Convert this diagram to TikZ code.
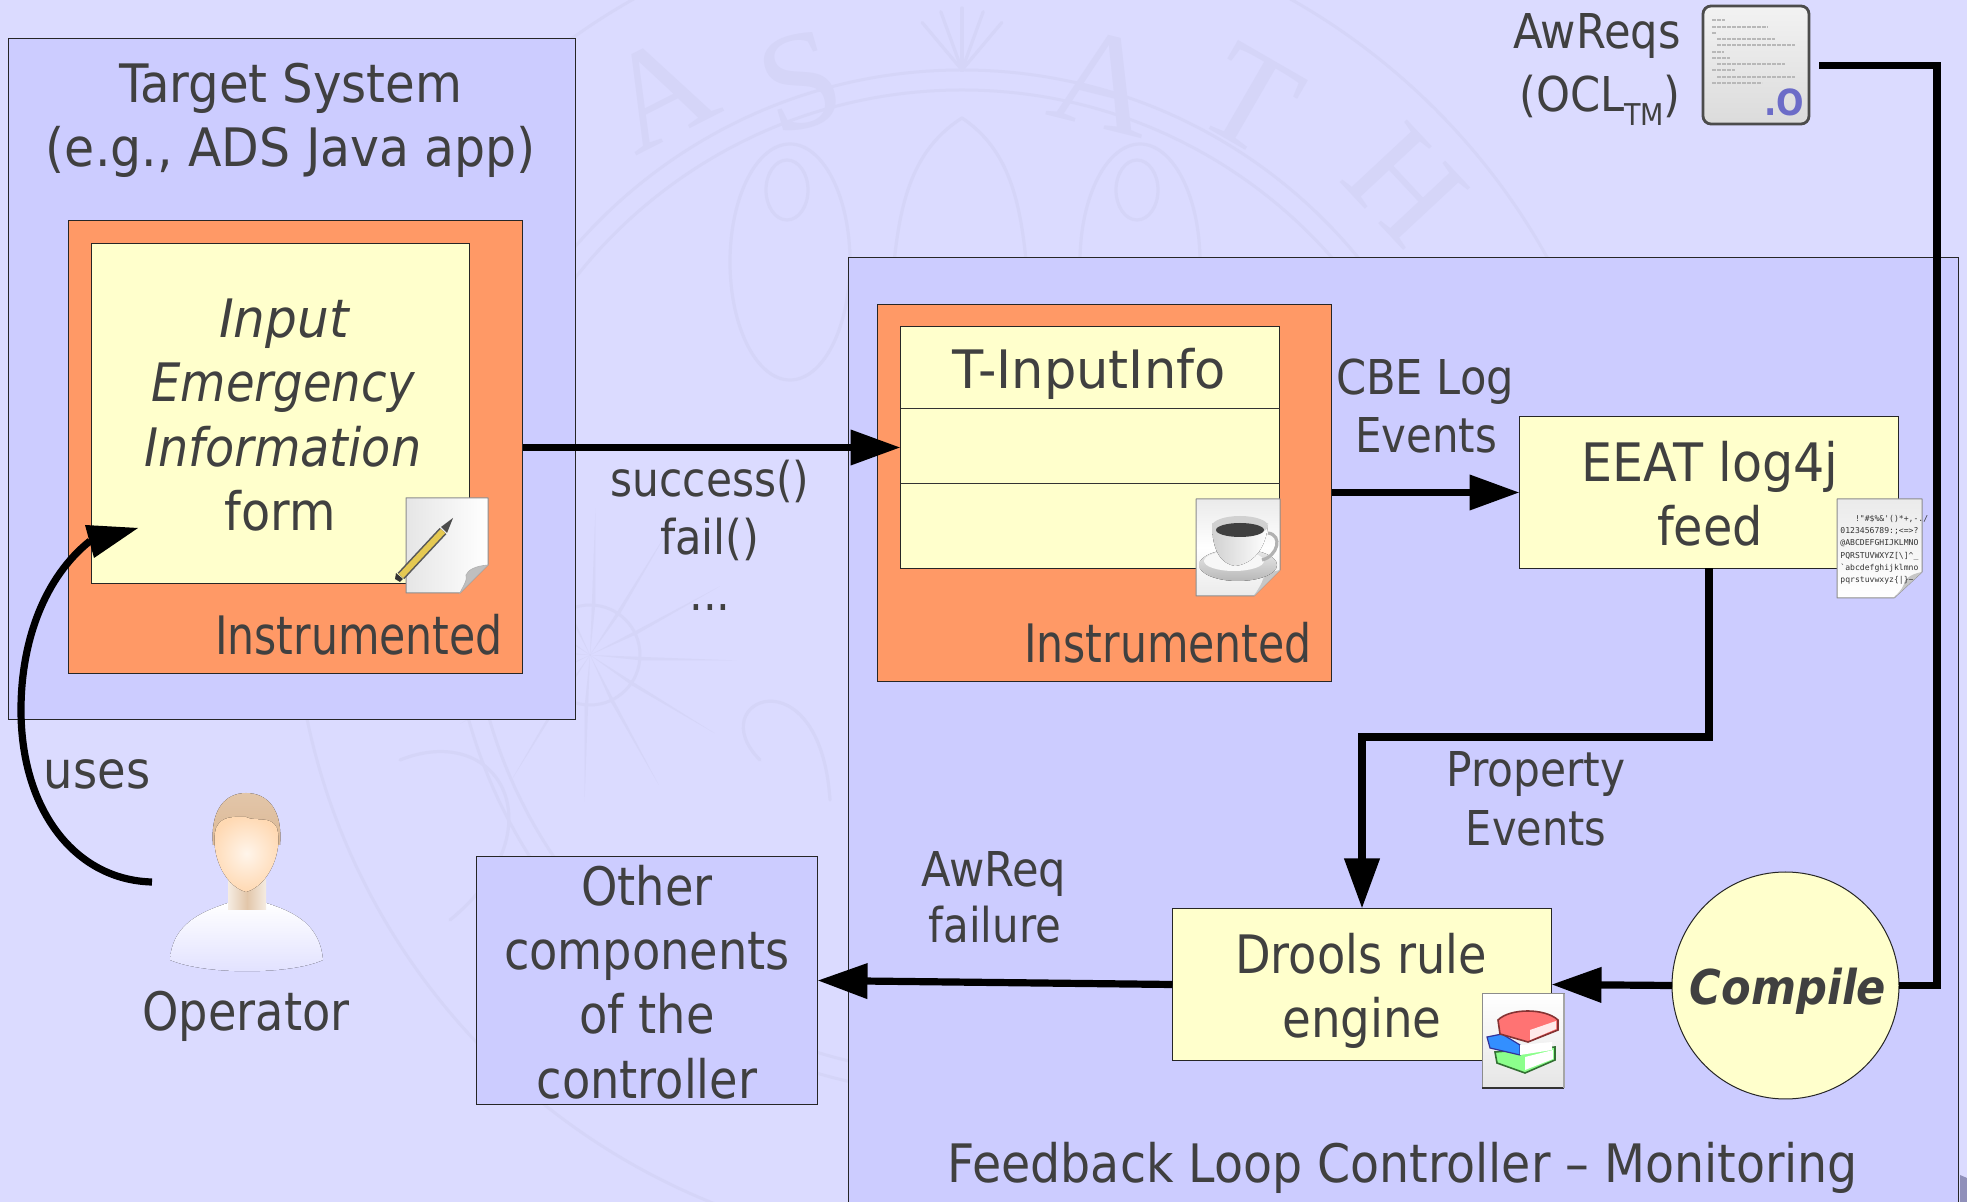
\documentclass[tikz,border=0pt]{standalone}
\usepackage{fontspec}
\setmainfont{DejaVu Sans Condensed}
\newfontfamily\wmfont{Liberation Serif}
\newfontfamily\tinyfont{DejaVu Sans Mono}
\usetikzlibrary{arrows.meta,shapes.geometric}
\definecolor{bgc}{HTML}{DBDBFF}
\definecolor{panel}{HTML}{CCCCFF}
\definecolor{orng}{HTML}{FF9966}
\definecolor{yel}{HTML}{FFFFCC}
\definecolor{ink}{HTML}{404040}
\definecolor{wm}{HTML}{D5D5F8}
\newcommand{\sx}[2]{\scalebox{#1}[1]{#2}}
\tikzset{
  x=0.5pt,y=-0.5pt,
  box/.style={draw=black!85,line width=0.5pt,inner sep=0,outer sep=0,rectangle},
  panelbox/.style={box,fill=panel},
  orngbox/.style={box,fill=orng},
  yelbox/.style={box,fill=yel},
  size/.style 2 args={minimum width=#1*0.5pt,minimum height=#2*0.5pt},
  txt/.style={anchor=base,inner sep=0,outer sep=0,align=center,text=ink,yshift=0.5pt,font=\fontsize{26.5}{32}\selectfont},
  txts/.style={txt,font=\fontsize{24}{29}\selectfont},
  conn/.style={draw=black,line width=3.6pt,-{Triangle[length=25pt,width=17pt]},line join=miter},
  plain/.style={draw=black,line width=3.6pt,line join=miter},
  wmring/.style={draw=wm,line width=1.5pt},
  wmtext/.style={text=wm,inner sep=0,font=\wmfont\fontsize{70}{70}\selectfont},
  wmline/.style={draw=wm,line width=1.6pt,line cap=round},
  icon/.style={inner sep=0,outer sep=0,rectangle},
  pageedge/.style={draw=black!45,line width=0.5pt,line join=round},
}
\begin{document}
\begin{tikzpicture}
\useasboundingbox (0,0) rectangle (1967,1202);
\clip (0,0) rectangle (1967,1202);
\fill[bgc] (0,0) rectangle (1967,1202);
% watermark seal
\draw[wmring] (962,582) circle (669);
\draw[wmring] (962,582) circle (512);
\draw[wmring] (962,582) circle (492);
\node[wmtext,rotate=27] (wmA) at (660,92) {A};
\node[wmtext,rotate=16] (wmS) at (800,82) {S};
\node[wmtext,rotate=-14] (wmB) at (1105,82) {A};
\node[wmtext,rotate=-30] (wmT) at (1250,100) {T};
\node[wmtext,rotate=-47] (wmH) at (1405,185) {H};
\foreach \a in {-70,-110,-90,-50,-130}
  \draw[wmline] (962,70) -- ++(\a:62);
\foreach \a in {0,30,...,330}
  \fill[wm] (590,655) ++(\a+6:52) -- ++(\a:95) -- (590,655) ++(\a-6:52) -- cycle;
\draw[wmring] (590,655) circle (50);
\foreach \cx/\ix in {790/787,1140/1137}{
  \draw[wmline] (\cx,262) ellipse (60 and 118);
  \draw[wmline] (\ix,190) ellipse (21 and 30);
}
\draw[wmline] (962,118) .. controls (880,170) and (900,280) .. (880,400);
\draw[wmline] (962,118) .. controls (1040,170) and (1020,280) .. (1040,400);
\draw[wmline] (400,760) .. controls (500,720) and (560,830) .. (450,920);
\draw[wmline] (760,760) .. controls (700,700) and (820,650) .. (830,800);

% bottom right corner
\fill[black!5!blue!25!gray!70] (1960,1175) -- (1967,1178) -- (1967,1202) -- (1960,1202) -- cycle;

% panels
\node[panelbox,size={567}{681}] (target) at (291.5,379.5) {};
\node[orngbox,size={454}{453}] (orngA) at (295.5,447.5) {};
\node[yelbox,size={378}{340}] (form) at (280,413.5) {};
\node[panelbox,size={1110}{960}] (feedback) at (1403.5,738) {};
\node[orngbox,size={454}{377}] (orngB) at (1104.5,493) {};
\node[yelbox,size={379}{242}] (tinput) at (1090,447.5) {};
\draw[draw=black!80,line width=0.5pt] (901,409) -- (1280,409);
\draw[draw=black!80,line width=0.5pt] (901,484) -- (1280,484);
\node[yelbox,size={379}{152}] (eeat) at (1709,492.5) {};
\node[yelbox,size={379}{152}] (drools) at (1362,984.5) {};
\node[panelbox,size={341}{248}] (other) at (647,980.5) {};
\node[yelbox,circle,minimum size=113.5pt] (compile) at (1785.5,985.5) {};

% connectors
\node[icon,size={108}{121}] (oclicon) at (1756,65.5) {};
\coordinate (awturn) at (1937,65.5);
\draw[plain] ([xshift=4.5pt]oclicon.east) -- (awturn) -- (awturn |- compile.east) -- (compile.east);
\draw[conn] (compile.west) -- (drools.east);
\draw[conn] (drools.west) -- (other.east);
\draw[conn] (orngA.east) -- (tinput.west);
\draw[conn] (orngB.east |- eeat.west) -- (eeat.west);
\coordinate (eeatturn) at (1709,737);
\draw[conn] (eeat.south) -- (eeatturn) -| (drools.north);
\coordinate (opout) at (152,882);
\coordinate (formin) at (138,528);
\draw[draw=black,line width=3.6pt] (opout) .. controls (75,880) and (21,810) .. (21,710) .. controls (21,640) and (45,577) .. (90,541);
\path[fill=black] (formin) -- (85,525) -- (94,558) -- cycle;

% texts
\node[txt] (t1) at (291,104) {\sx{1.01}{Target System}};
\node[txt] (t2) at (291,168) {\sx{1.026}{(e.g., ADS Java app)}};
\node[txt,font=\fontsize{26.5}{32}\itshape] (f1) at (284,339) {\sx{1.05}{Input}};
\node[txt,font=\fontsize{26.5}{32}\itshape] (f2) at (283,403) {\sx{0.975}{Emergency}};
\node[txt,font=\fontsize{26.5}{32}\itshape] (f3) at (283,468) {Information};
\node[txt] (f4) at (280,532) {form};
\node[txt,anchor=base east] (i1) at (503,656) {\sx{0.894}{Instrumented}};
\node[txt,anchor=base east] (i2) at (1312,664) {\sx{0.894}{Instrumented}};
\node[txt] (ti) at (1089,390) {\sx{1.07}{T-InputInfo}};
\node[txts] (s1) at (710,498) {\sx{0.98}{success()}};
\node[txts] (s2) at (710,556) {fail()};
\node[txts] (s3) at (710,612) {...};
\node[txts] (c1) at (1425,396) {CBE Log};
\node[txts] (c2) at (1426,454) {\sx{0.97}{Events}};
\node[txt] (e1) at (1710,483) {\sx{1.03}{EEAT log4j}};
\node[txt] (e2) at (1710,547) {feed};
\node[txts] (p1) at (1536,788) {\sx{0.98}{Property}};
\node[txts] (p2) at (1536,847) {\sx{0.96}{Events}};
\node[txts] (a1) at (994,888) {AwReq};
\node[txts] (a2) at (995,944) {\sx{0.97}{failure}};
\node[txt] (d1) at (1361,975) {\sx{0.97}{Drools rule}};
\node[txt] (d2) at (1362,1039) {\sx{0.98}{engine}};
\node[txt,font=\fontsize{24}{29}\bfseries\itshape] (cp) at (1788,1006) {Compile};
\node[txt] (o1) at (647,907) {\sx{0.97}{Other}};
\node[txt] (o2) at (647,971) {\sx{0.97}{components}};
\node[txt] (o3) at (647,1035) {\sx{0.97}{of the}};
\node[txt] (o4) at (647,1100) {\sx{0.97}{controller}};
\node[txt] (op) at (246,1032) {\sx{0.97}{Operator}};
\node[txts,font=\fontsize{25.8}{29}\selectfont] (us) at (97,790) {uses};
\node[txts] (aw) at (1597,50) {AwReqs};
\node[txts] (ocl) at (1600,113) {(OCL\raisebox{-7pt}{\fontsize{15}{15}\selectfont TM})};
\node[txt] (fb) at (1403,1183) {\sx{0.995}{Feedback Loop Controller – Monitoring}};

% operator icon
\node[icon,size={153}{180}] (opicon) at (246,880) {};
\fill[top color=white,bottom color=white!88!blue] (170,960) .. controls (172,925) and (200,912) .. (228,903) -- (266,903) .. controls (295,912) and (320,925) .. (323,960) .. controls (290,975) and (205,975) .. (170,960) -- cycle;
\fill[left color=white!85!brown,right color=white!85!brown,middle color=brown!45!white] (228,880) rectangle (266,910);
\fill[top color=brown!45!white,bottom color=brown!55!white] (213,845) .. controls (210,810) and (225,793) .. (246,793) .. controls (268,793) and (283,810) .. (280,845) -- cycle;
\fill[inner color=orange!8!white,outer color=orange!30!white] (246,817) .. controls (235,817) and (222,815) .. (216,828) .. controls (210,850) and (222,885) .. (246,892) .. controls (270,885) and (283,850) .. (277,828) .. controls (271,815) and (255,822) .. (246,817) -- cycle;

% note icon
\node[icon,size={82}{95}] (noteicon) at (447,545.5) {};
\path[pageedge,left color=black!10,right color=white] (406,498) -- (488,498) -- (488,565) -- (460,593) -- (406,593) -- cycle;
\path[fill=black!25,draw=black!30,line width=0.3pt] (488,565) .. controls (475,566) and (468,570) .. (466,575) .. controls (468,580) and (462,588) .. (460,593) -- cycle;
\draw[draw=black!65,line width=4.6pt] (401,576) -- (443,531);
\draw[draw=yellow!50!brown!85!white,line width=3pt] (401,576) -- (443,531);
\fill[black!70] (441,527) -- (453,518) -- (447,533) -- cycle;
\fill[black!80] (396,573) -- (403,579) -- (400,582) -- (395,579) -- cycle;

% coffee icon
\node[icon,size={84}{97}] (cupicon) at (1238,547.5) {};
\path[pageedge,top color=white!92!black,bottom color=white!92!black,middle color=white] (1196,499) -- (1280,499) -- (1280,570) -- (1254,596) -- (1196,596) -- cycle;
\path[fill=black!22] (1280,570) .. controls (1268,572) and (1262,578) .. (1262,582) .. controls (1260,587) and (1256,592) .. (1254,596) -- cycle;
\fill[top color=black!8,bottom color=black!28] (1238,565) ellipse (39 and 16);
\fill[white!97!black] (1234,561) ellipse (30 and 10);
\draw[black!30,line width=1.6pt] (1268,533) .. controls (1283,535) and (1278,556) .. (1262,560);
\fill[left color=black!18,right color=white] (1212,524) .. controls (1212,552) and (1222,564) .. (1235,566) .. controls (1252,564) and (1266,550) .. (1268,524) -- cycle;
\fill[black!18] (1240,526) ellipse (28 and 10);
\fill[black!75] (1240,530) ellipse (24 and 7);

% font page icon
\node[icon,size={85}{99}] (fonticon) at (1879.5,548.5) {};
\path[pageedge,top color=white!92!black,bottom color=white] (1837,499) -- (1922,499) -- (1922,572) -- (1894,598) -- (1837,598) -- cycle;
\path[fill=black!22] (1922,572) .. controls (1910,574) and (1904,580) .. (1904,584) .. controls (1902,590) and (1897,594) .. (1894,598) -- cycle;
\node[inner sep=0,text=black!80,align=left,anchor=north west,font=\tinyfont\fontsize{4.05}{6.1}\selectfont] (fonttext) at (1840,515) {\ \ \ !"\#\$\%\&'()*+,-./\\0123456789:;<=>?\\@ABCDEFGHIJKLMNO\\PQRSTUVWXYZ[\textbackslash]\^{}\_\\`abcdefghijklmno\\pqrstuvwxyz\{|\}\textasciitilde};

% OCL doc icon
\path[draw=black!70,line width=1.4pt,rounded corners=4pt,top color=white!95!black,bottom color=black!14] (1703,6) rectangle (1809,124);
\foreach \yy/\xa/\xb in {20/1712/1725,27/1712/1768,33/1712/1716,39/1717/1775,45/1717/1795,52/1712/1724,58/1712/1730,64/1717/1785,70/1712/1735,77/1717/1795,83/1712/1762}
  \draw[black!28,line width=0.9pt,dash pattern=on 2pt off 0.5pt] (\xa,\yy) -- (\xb,\yy);
\definecolor{oclblue}{HTML}{6C6CC8}
\node[anchor=base,inner sep=0,text=oclblue,font=\fontsize{18}{18}\bfseries\selectfont] (ocltext) at (1784,116) {.O};

% books icon
\node[icon,size={82}{95}] (bookicon) at (1523,1041.5) {};
\path[top color=white,bottom color=black!10,draw=black!45,line width=0.5pt] (1482,994) rectangle (1564,1088);
\draw[black!80,line width=1.3pt] (1482,1088) -- (1564,1088);
\draw[black!35,line width=1.2pt] (1564,994) -- (1564,1088);
\path[fill=green!45!white,draw=green!30!black!80,line width=0.8pt] (1495,1052) -- (1555,1047) -- (1555,1060) -- (1525,1073) -- (1497,1063) -- cycle;
\path[fill=white,draw=none] (1525,1057) -- (1553,1050) -- (1553,1059) -- (1525,1070) -- cycle;
\path[fill=blue!55!cyan!80!white,draw=blue!50!black!80,line width=0.6pt] (1487,1037) -- (1502,1034) -- (1520,1045) -- (1520,1055) -- (1490,1048) -- cycle;
\path[fill=white] (1520,1045) -- (1552,1042) -- (1552,1050) -- (1520,1055) -- cycle;
\path[fill=red!55!white,draw=red!40!black!80,line width=0.8pt] (1498,1020) .. controls (1510,1008) and (1545,1008) .. (1558,1020) -- (1558,1030) -- (1528,1042) -- (1500,1034) -- cycle;
\path[fill=white!92!red] (1530,1030) -- (1556,1021) -- (1556,1029) -- (1530,1040) -- cycle;
\end{tikzpicture}
\end{document}
